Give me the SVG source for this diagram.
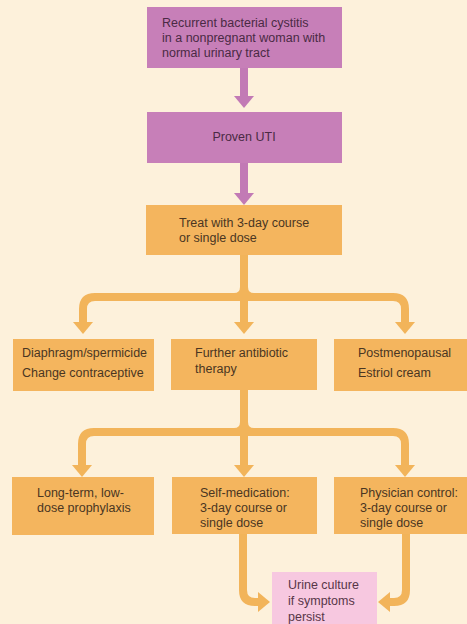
<svg xmlns="http://www.w3.org/2000/svg" width="467" height="624" viewBox="0 0 467 624">
<defs>
<style>
.bg{fill:#fdf1db}
.pbox{fill:#c77fb8}
.obox{fill:#f4b55e}
.kbox{fill:#f7c8e0}
text{font-family:"Liberation Sans",Arial,sans-serif;font-size:12.5px}
.pt{fill:#4a2a44}
.ot{fill:#4a3622}
.kt{fill:#573648}
.pc{fill:none;stroke:#c27ab5;stroke-width:8}
.oc{fill:none;stroke:#f2b45a;stroke-width:8}
.of{fill:#f2b45a}
</style>
<marker id="ap" viewBox="0 0 12 20" refX="0" refY="10" markerWidth="12" markerHeight="20" markerUnits="userSpaceOnUse" orient="auto"><polygon points="0,0 12,10 0,20" fill="#c27ab5"/></marker>
<marker id="ao" viewBox="0 0 12 20" refX="0" refY="10" markerWidth="12" markerHeight="20" markerUnits="userSpaceOnUse" orient="auto"><polygon points="0,0 12,10 0,20" fill="#f2b45a"/></marker>
</defs>
<rect class="bg" x="0" y="0" width="467" height="624"/>
<g id="connectors">
<path class="pc" d="M244,68 V96" marker-end="url(#ap)"/>
<path class="pc" d="M244,163 V193" marker-end="url(#ap)"/>
<path class="oc" d="M244,255 V322" marker-end="url(#ao)"/>
<path class="oc" d="M244,297 H95 Q83,297 83,309 V322" marker-end="url(#ao)"/>
<path class="oc" d="M244,297 H393 Q405,297 405,309 V322" marker-end="url(#ao)"/>
<path class="of" d="M234,293 Q240,293 240,287 V293 Z M254,293 Q248,293 248,287 V293 Z"/>
<path class="oc" d="M244,390 V465" marker-end="url(#ao)"/>
<path class="oc" d="M244,432 H94 Q82,432 82,444 V465" marker-end="url(#ao)"/>
<path class="oc" d="M244,432 H393 Q405,432 405,444 V465" marker-end="url(#ao)"/>
<path class="of" d="M234,428 Q240,428 240,422 V428 Z M254,428 Q248,428 248,422 V428 Z"/>
<path class="oc" d="M243,534 V590 Q243,602 255,602 H258" marker-end="url(#ao)"/>
<path class="oc" d="M406,534 V590 Q406,602 394,602 H390" marker-end="url(#ao)"/>
</g>
<g id="n1"><rect class="pbox" x="147" y="7" width="195" height="61"/>
<text class="pt" x="162" y="27">Recurrent bacterial cystitis</text>
<text class="pt" x="162" y="42">in a nonpregnant woman with</text>
<text class="pt" x="162" y="57">normal urinary tract</text></g>
<g id="n2"><rect class="pbox" x="147" y="112" width="195" height="51"/>
<text class="pt" x="244" y="141" text-anchor="middle">Proven UTI</text></g>
<g id="n3"><rect class="obox" x="146" y="205" width="196" height="50"/>
<text class="ot" x="179" y="227">Treat with 3-day course</text>
<text class="ot" x="179" y="242">or single dose</text></g>
<g id="n4"><rect class="obox" x="13" y="339" width="141" height="52"/>
<text class="ot" x="22" y="357">Diaphragm/spermicide</text>
<text class="ot" x="22" y="377">Change contraceptive</text></g>
<g id="n5"><rect class="obox" x="171" y="339" width="146" height="51"/>
<text class="ot" x="195" y="357">Further antibiotic</text>
<text class="ot" x="195" y="373">therapy</text></g>
<g id="n6"><rect class="obox" x="334" y="339" width="140" height="52"/>
<text class="ot" x="358" y="357">Postmenopausal</text>
<text class="ot" x="358" y="377">Estriol cream</text></g>
<g id="n7"><rect class="obox" x="12" y="477" width="142" height="58"/>
<text class="ot" x="37" y="497">Long-term, low-</text>
<text class="ot" x="37" y="512">dose prophylaxis</text></g>
<g id="n8"><rect class="obox" x="172" y="477" width="145" height="57"/>
<text class="ot" x="200" y="497">Self-medication:</text>
<text class="ot" x="200" y="512">3-day course or</text>
<text class="ot" x="200" y="527">single dose</text></g>
<g id="n9"><rect class="obox" x="334" y="477" width="140" height="57"/>
<text class="ot" x="360" y="497">Physician control:</text>
<text class="ot" x="360" y="512">3-day course or</text>
<text class="ot" x="360" y="527">single dose</text></g>
<g id="n10"><rect class="kbox" x="272" y="572" width="105" height="60"/>
<text class="kt" x="288" y="589">Urine culture</text>
<text class="kt" x="288" y="605">if symptoms</text>
<text class="kt" x="288" y="621">persist</text></g>
</svg>
